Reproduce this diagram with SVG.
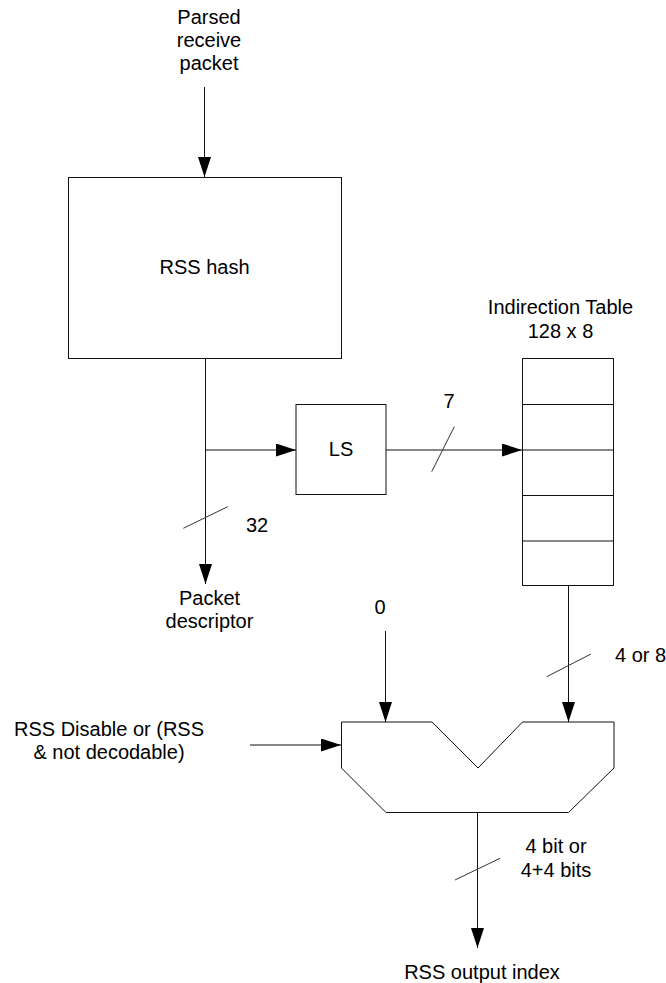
<svg xmlns="http://www.w3.org/2000/svg" width="666" height="983" viewBox="0 0 666 983">
<style>
.t{font-family:"Liberation Sans",Arial,sans-serif;font-size:20px;fill:#000}
.m{text-anchor:middle}
.box{fill:#fff;stroke:#111;stroke-width:1}
.ln{fill:none;stroke:#111;stroke-width:1}
.sl{fill:none;stroke:#333;stroke-width:1}
</style>
<defs>
<marker id="ah" markerUnits="userSpaceOnUse" markerWidth="20" markerHeight="14" refX="20" refY="6.5" orient="auto">
<path d="M0,0 L20,6.5 L0,13 z" fill="#000"/>
</marker>
</defs>
<rect width="666" height="983" fill="#fff"/>
<g id="connectors">
<path class="ln" d="M204.5,87 V177" marker-end="url(#ah)"/>
<path class="ln" d="M205.5,358 V584" marker-end="url(#ah)"/>
<path class="ln" d="M205.5,450 H296" marker-end="url(#ah)"/>
<path class="ln" d="M386,450 H522" marker-end="url(#ah)"/>
<path class="ln" d="M568.5,585 V722" marker-end="url(#ah)"/>
<path class="ln" d="M385.5,631 V722" marker-end="url(#ah)"/>
<path class="ln" d="M250,745 H341" marker-end="url(#ah)"/>
<path class="ln" d="M477.5,812 V948" marker-end="url(#ah)"/>
<line class="sl" x1="431.7" y1="471.7" x2="454.3" y2="426.7"/>
<line class="sl" x1="183.3" y1="528.3" x2="227.7" y2="506.7"/>
<line class="sl" x1="546.7" y1="676.7" x2="591" y2="654"/>
<line class="sl" x1="455" y1="880" x2="500" y2="858.3"/>
<text class="t m" x="449" y="407.5">7</text>
<text class="t" x="246" y="532">32</text>
<text class="t" x="615" y="661.5">4 or 8</text>
<text class="t m" x="556" y="853">4 bit or</text>
<text class="t m" x="556" y="876.5">4+4 bits</text>
<text class="t m" x="380" y="614">0</text>
</g>
<g id="input">
<text class="t m" x="209" y="24">Parsed</text>
<text class="t m" x="209" y="47">receive</text>
<text class="t m" x="209" y="70">packet</text>
</g>
<g id="rss-hash">
<rect class="box" x="68.5" y="177.5" width="273" height="181"/>
<text class="t m" x="204.5" y="274">RSS hash</text>
</g>
<g id="ls">
<rect class="box" x="296" y="404.5" width="90" height="90"/>
<text class="t m" x="341" y="456">LS</text>
</g>
<g id="indirection-table">
<text class="t m" x="560.5" y="314">Indirection Table</text>
<text class="t m" x="560.5" y="337.5">128 x 8</text>
<rect class="box" x="522.5" y="358.5" width="91" height="227"/>
<path class="ln" d="M522.5,404.5 H613.5 M522.5,450 H613.5 M522.5,495.5 H613.5 M522.5,541 H613.5"/>
</g>
<g id="packet-descriptor">
<text class="t m" x="209.5" y="605">Packet</text>
<text class="t m" x="209.5" y="627.5">descriptor</text>
</g>
<g id="rss-disable">
<text class="t m" x="109" y="736">RSS Disable or (RSS</text>
<text class="t m" x="109" y="759">&amp; not decodable)</text>
</g>
<g id="mux">
<polygon class="box" points="341.5,722 432,722 478,768 522.5,722 614,722 614,768 568.5,812.5 386,812.5 341.5,768"/>
</g>
<g id="output">
<text class="t m" x="482" y="978.5">RSS output index</text>
</g>
</svg>
